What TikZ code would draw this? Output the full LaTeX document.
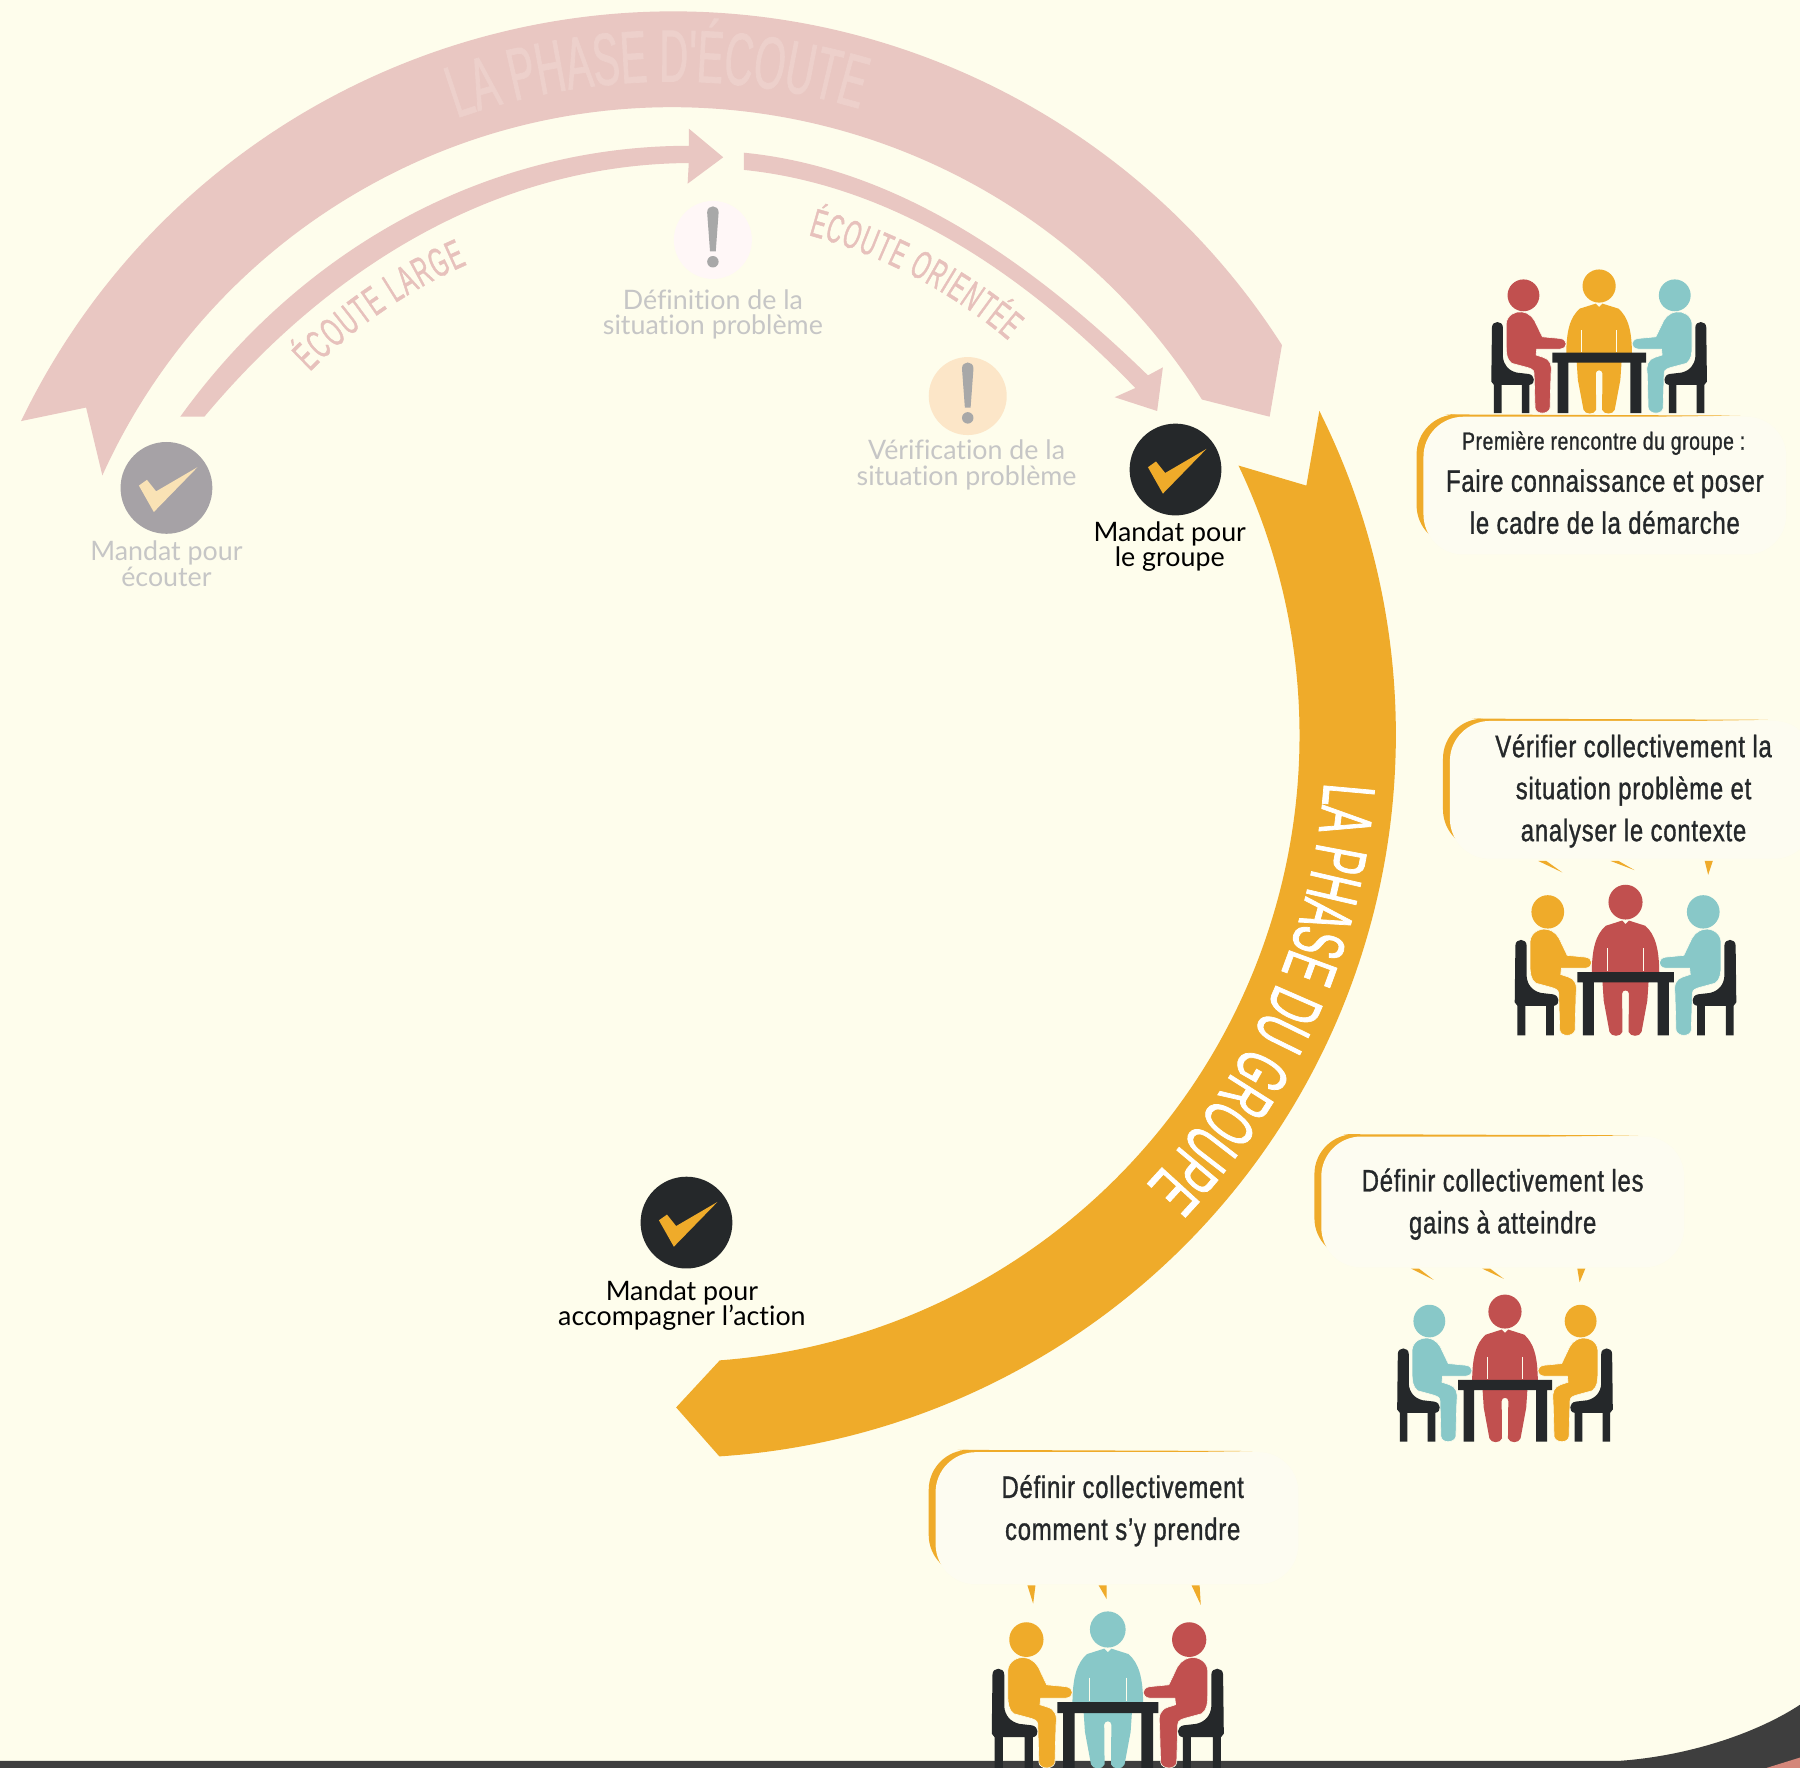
\documentclass[tikz,border=0pt]{standalone}
\usepackage{fontspec}
\usetikzlibrary{decorations.text}
\setmainfont[Ligatures=NoCommon]{Lato}
\newfontfamily\din[FakeStretch=0.77,FakeBold=1,LetterSpace=2.5]{Liberation Sans}
\newfontfamily\dintitle[FakeStretch=0.54,FakeBold=1]{Liberation Sans}
\definecolor{bgc}{HTML}{FEFDEC}
\definecolor{ribbon}{HTML}{E9C7C2}
\definecolor{ribtext}{HTML}{EDD0CB}
\definecolor{amber}{HTML}{EFAB2A}
\definecolor{brick}{HTML}{C1504F}
\definecolor{teal}{HTML}{88C8C8}
\definecolor{ink}{HTML}{25282A}
\definecolor{bubblefill}{HTML}{FDFCF1}
\definecolor{fadetext}{HTML}{C6C6C6}
\definecolor{fadebadge}{HTML}{A6A2A6}
\definecolor{paleamber}{HTML}{FCE6C8}
\definecolor{band}{HTML}{3E3E3E}
\definecolor{blush}{HTML}{D4867A}
\tikzset{
  x=0.574pt,y=-0.574pt,
  badge/.style={circle,inner sep=0pt,minimum size=45.9pt},
  note/.style={circle,inner sep=0pt,minimum size=39pt},
  caption/.style={align=center,inner sep=0pt,font=\fontsize{13.4}{12.6}\selectfont},
  bubbletext/.style={align=center,inner sep=0pt,text=ink,font=\din\fontsize{15.5}{21}\selectfont},
}
\newcommand\tickmark[2]{\fill[#2,shift={(#1)}] (-24,-2) -- (-17,-7) -- (-9,3) -- (27,-18) -- (-11,21) -- cycle;}
\newcommand\bangmark[1]{\begin{scope}[shift={(#1)}]
  \fill[fadetext!85!black] (-5,-24) .. controls (-5,-31) and (5,-31) .. (5,-24) -- (2.5,10) -- (-2.5,10) -- cycle;
  \fill[fadetext!85!black] (0,19) circle[radius=5];
\end{scope}}
\newcommand\sideseat[1]{%
  \fill[ink] (335,262) .. controls (335,240) and (368,240) .. (368,262) -- (368,350) .. controls (370,375) and (385,392) .. (410,398) -- (445,402) .. controls (465,405) and (468,432) .. (448,435) -- (448,520) -- (425,520) -- (425,435) -- (364,435) -- (364,520) -- (341,520) -- (341,435) -- (333,425) -- cycle;
  \fill[#1] (430,165) circle[radius=48];
  \filldraw[fill=#1,draw=bgc,line width=0.3pt] (378,250) .. controls (380,225) and (405,212) .. (425,215) .. controls (450,218) and (462,235) .. (470,255) -- (487,290) -- (540,295) .. controls (565,298) and (565,325) .. (540,327) -- (470,327) -- (468,345) -- (490,352) .. controls (510,358) and (517,375) .. (513,400) -- (510,505) .. controls (505,525) and (468,525) .. (465,505) -- (462,400) .. controls (462,388) and (450,385) .. (440,382) -- (395,370) .. controls (380,360) and (378,340) .. (378,320) -- cycle;
}
\newcommand\meeting[5]{\begin{scope}[shift={(#1)},#2]
  \begin{scope}[shift={(-658,-88)}]
    \fill[#4] (658,137) circle[radius=50];
    \fill[#4] (600,205) -- (648,190) -- (658,200) -- (668,190) -- (716,205) .. controls (745,230) and (757,270) .. (757,345) -- (559,345) .. controls (559,270) and (571,230) .. (600,205) -- cycle;
    \draw[bgc,line width=0.3pt] (605,270) -- (605,335) (711,270) -- (711,335);
    \fill[#4] (590,360) -- (726,360) -- (722,420) -- (705,510) .. controls (700,525) and (672,525) .. (667,510) -- (668,400) .. controls (668,388) and (648,388) .. (648,400) -- (649,510) .. controls (644,525) and (616,525) .. (611,510) -- (594,420) -- cycle;
    \fill[ink] (517,338) -- (800,338) -- (800,368) -- (785,368) -- (785,520) -- (752,520) -- (752,368) -- (565,368) -- (565,520) -- (533,520) -- (533,368) -- (517,368) -- cycle;
    \sideseat{#3}
  \end{scope}
  \begin{scope}[xscale=-1,shift={(-658,-88)}]
    \sideseat{#5}
  \end{scope}
\end{scope}}
\newcommand\bubble[4]{%
  \fill[amber] (#1+30,#2) -- (#3-40,#2+1) -- (#1+30,#2+5) -- cycle;
  \fill[amber,rounded corners=20pt] (#1,#2) rectangle (#1+60,#4-8);
  \fill[bubblefill,rounded corners=20pt] (#1+6,#2+2) rectangle (#3,#4);
}
\newcommand\spark[4]{\fill[amber] (#1,#2) -- (#1+7,#2) -- (#3,#4) -- cycle;}
\newcommand\ringtext[6]{\begingroup\dintitle\fontsize{#1}{#1}\selectfont
  \path[shift={(hub)},decorate,decoration={text along path,text align=fit to path,text={|\color{#2}|#6}}] (#4:#3) arc[start angle=#4,end angle=#5,radius=#3];
\endgroup}
\begin{document}
\begin{tikzpicture}
\useasboundingbox (0,0) rectangle (1568,1540);
\fill[bgc] (0,0) rectangle (1568,1540);
\coordinate (hub) at (586,640);
% listening ribbon
\fill[ribbon] (hub) ++(-154.3:630) arc[start angle=-154.3,end angle=-32.6,radius=630] -- (1106,363) -- (1047,348) arc[start angle=-32.2,end angle=-155.7,radius=545] -- (75,355) -- cycle;
% small arrows
\fill[ribbon] (157,363) .. controls (260,220) and (420,127) .. (600,127) -- (600,112) -- (630,137) -- (599,160) -- (600,142) .. controls (430,143) and (285,235) .. (178,363) -- cycle;
\fill[ribbon] (648,133) .. controls (770,145) and (885,215) .. (1000,327) -- (1013,320) -- (1008,358) -- (971,346) -- (989,338) .. controls (880,225) and (765,160) .. (648,148) -- cycle;
% group ribbon
\fill[amber] (hub) ++(-26.6:630) arc[start angle=-26.6,end angle=86.3,radius=630] -- (589,1226) -- (627,1185) arc[start angle=85.7,end angle=-25.5,radius=546] -- (1138,423) -- cycle;
% ribbon titles
\ringtext{37}{ribtext}{569}{-109.3}{-73.6}{LA PHASE D'ÉCOUTE}
\ringtext{20.5}{ribbon!95!brick}{447}{-135}{-113.6}{ÉCOUTE LARGE}
\ringtext{20}{ribbon!95!brick}{451}{-74.8}{-49.6}{ÉCOUTE ORIENTÉE}
\ringtext{37}{white}{569}{4.2}{43.4}{LA PHASE DU GROUPE}
% badges
\node[badge,fill=fadebadge] (m1) at (145,425) {};
\tickmark{m1.center}{amber!35!white}
\node[badge,fill=ink] (m2) at (1024,409) {};
\tickmark{m2.center}{amber}
\node[badge,fill=ink] (m3) at (598,1065) {};
\tickmark{m3.center}{amber}
\node[note,fill=red!3!white] (n1) at (621,209) {};
\bangmark{n1.center}
\node[note,fill=paleamber] (n2) at (843,345) {};
\bangmark{n2.center}
\node[caption,text=fadetext] (t1) at (145,491) {Mandat pour\\écouter};
\node[caption,text=fadetext] (t2) at (621,274) {Définition de la\\situation problème};
\node[caption,text=fadetext] (t3) at (842,405) {Vérification de la\\situation problème};
\node[caption,text=black] (t4) at (1019,476) {Mandat pour\\le groupe};
\node[caption,text=black] (t5) at (594,1137) {Mandat pour\\accompagner l’action};
\fill[band] (0,1534) -- (1409,1534) .. controls (1470,1530) and (1530,1510) .. (1568,1485) -- (1568,1540) -- (0,1540) -- cycle;
\fill[blush] (1539,1540) -- (1568,1531) -- (1568,1540) -- cycle;
\meeting{1393,235}{xscale=.289,yscale=.289}{brick}{amber}{teal}
\meeting{1416,771}{xscale=.297,yscale=.303}{amber}{brick}{teal}
\meeting{1311,1128}{xscale=.289,yscale=.296}{teal}{brick}{amber}
\meeting{965,1404}{xscale=.311,yscale=.315}{amber}{teal}{brick}
\bubble{1234}{361}{1556}{483}
\node[bubbletext,font=\din\fontsize{12.5}{16}\selectfont] (b1a) at (1397,386) {Première rencontre du groupe :};
\node[bubbletext] (b1b) at (1398,437) {Faire connaissance et poser\\le cadre de la démarche};
\bubble{1257}{626}{1580}{748}
\node[bubbletext] (b2) at (1423,689) {Vérifier collectivement la\\situation problème et\\analyser le contexte};
\spark{1340}{750}{1361}{760}\spark{1403}{750}{1424}{758}\spark{1485}{750}{1488}{762}
\bubble{1145}{988}{1467}{1104}
\node[bubbletext] (b3) at (1309,1049) {Définir collectivement les\\gains à atteindre};
\spark{1229}{1105}{1249}{1115}\spark{1291}{1105}{1310}{1114}\spark{1374}{1105}{1376}{1117}
\bubble{809}{1263}{1131}{1380}
\node[bubbletext] (b4) at (978,1316) {Définir collectivement\\comment s’y prendre};
\spark{895}{1381}{900}{1397}\spark{957}{1381}{964}{1393}\spark{1038}{1381}{1046}{1398}
\end{tikzpicture}
\end{document}
